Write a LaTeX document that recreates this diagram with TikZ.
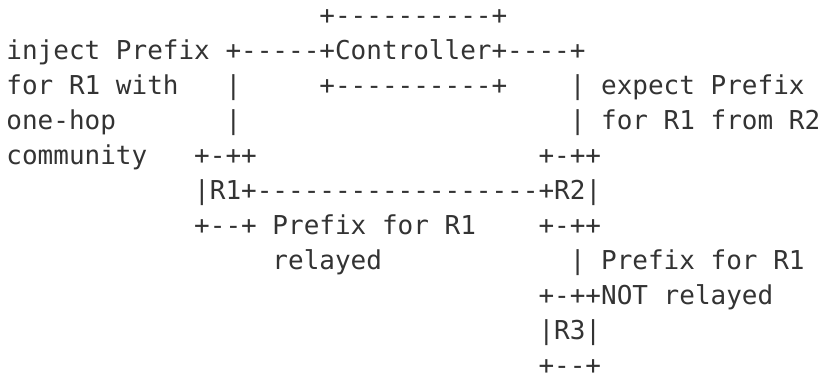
\documentclass[tikz,border=0pt]{standalone}
\usepackage{fontspec}
\setmonofont{DejaVu Sans Mono}
\definecolor{ink}{HTML}{333333}
\tikzset{asciitxt/.style={anchor=base west, inner sep=0pt, outer sep=0pt, text depth=0pt,
  font=\ttfamily\fontsize{26pt}{35pt}\selectfont, text=ink}}
\newcommand\asciiseg[4]{\node[asciitxt] (#1) at ({6.4pt+#3*15.65pt},{-24.5pt-#2*35pt}) {#4};}
\begin{document}
\begin{tikzpicture}
\fill[white] (0,0) rectangle (822pt,-381pt);
\useasboundingbox (0,0) rectangle (822pt,-381pt);
\asciiseg{ctrltop}{0}{20}{+----------+}
\asciiseg{injA}{1}{0}{inject Prefix}
\asciiseg{ctrlmid}{1}{14}{+-----+Controller+----+}
\asciiseg{injB}{2}{0}{for R1 with}
\asciiseg{vlA}{2}{14}{|}
\asciiseg{ctrlbot}{2}{20}{+----------+}
\asciiseg{expA}{2}{36}{| expect Prefix}
\asciiseg{injC}{3}{0}{one-hop}
\asciiseg{vlB}{3}{14}{|}
\asciiseg{expB}{3}{36}{| for R1 from R2}
\asciiseg{injD}{4}{0}{community}
\asciiseg{rAtop}{4}{12}{+-++}
\asciiseg{rBtop}{4}{34}{+-++}
\asciiseg{link}{5}{12}{|R1+------------------+R2|}
\asciiseg{rAbot}{6}{12}{+--+ Prefix for R1}
\asciiseg{rBbot}{6}{34}{+-++}
\asciiseg{relA}{7}{17}{relayed}
\asciiseg{relB}{7}{36}{| Prefix for R1}
\asciiseg{rCtop}{8}{34}{+-++NOT relayed}
\asciiseg{rCmid}{9}{34}{|R3|}
\asciiseg{rCbot}{10}{34}{+--+}
\end{tikzpicture}
\end{document}
